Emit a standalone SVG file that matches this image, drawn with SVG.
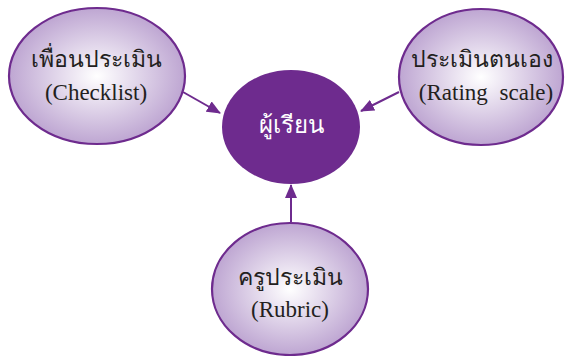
<svg xmlns="http://www.w3.org/2000/svg" width="565" height="356" viewBox="0 0 565 356">
<style>
.sat{fill:url(#g);stroke:#6e2b8e;stroke-width:2.2}
.t{font-family:'Liberation Serif',serif;font-size:23px;fill:#231f20;text-anchor:middle}
.w{font-family:'Liberation Serif',serif;font-size:24px;fill:#ffffff;text-anchor:middle}
.c{stroke:#6e2b8e;stroke-width:2;fill:none;marker-end:url(#a)}
</style>
<defs>
<radialGradient id="g" cx="0.5" cy="0.5" r="0.5">
<stop offset="0" stop-color="#ffffff"/>
<stop offset="1" stop-color="#bea6d2"/>
</radialGradient>
<marker id="a" markerWidth="14" markerHeight="12" refX="13" refY="6" orient="auto" markerUnits="userSpaceOnUse">
<path d="M0,0 L14,6 L0,12 Z" fill="#6e2b8e"/>
</marker>
</defs>
<g id="connectors">
<line class="c" x1="183" y1="92" x2="220" y2="113"/>
<line class="c" x1="399" y1="92" x2="361" y2="111"/>
<line class="c" x1="291" y1="222" x2="291" y2="185"/>
</g>
<g id="center">
<ellipse cx="291" cy="127" rx="69" ry="57" fill="#6e2b8e"/>
<text class="w" x="291" y="133">ผู้เรียน</text>
</g>
<g id="peer">
<ellipse class="sat" cx="97" cy="76" rx="88" ry="68"/>
<text class="t" x="96" y="67">เพื่อนประเมิน</text>
<text class="t" x="96" y="100">(Checklist)</text>
</g>
<g id="self">
<ellipse class="sat" cx="481" cy="77" rx="82" ry="68"/>
<text class="t" x="482" y="67">ประเมินตนเอง</text>
<text class="t" x="486" y="100" word-spacing="6">(Rating scale)</text>
</g>
<g id="teacher">
<ellipse class="sat" cx="290" cy="289" rx="78" ry="66"/>
<text class="t" x="290" y="285">ครูประเมิน</text>
<text class="t" x="290" y="317">(Rubric)</text>
</g>
</svg>
